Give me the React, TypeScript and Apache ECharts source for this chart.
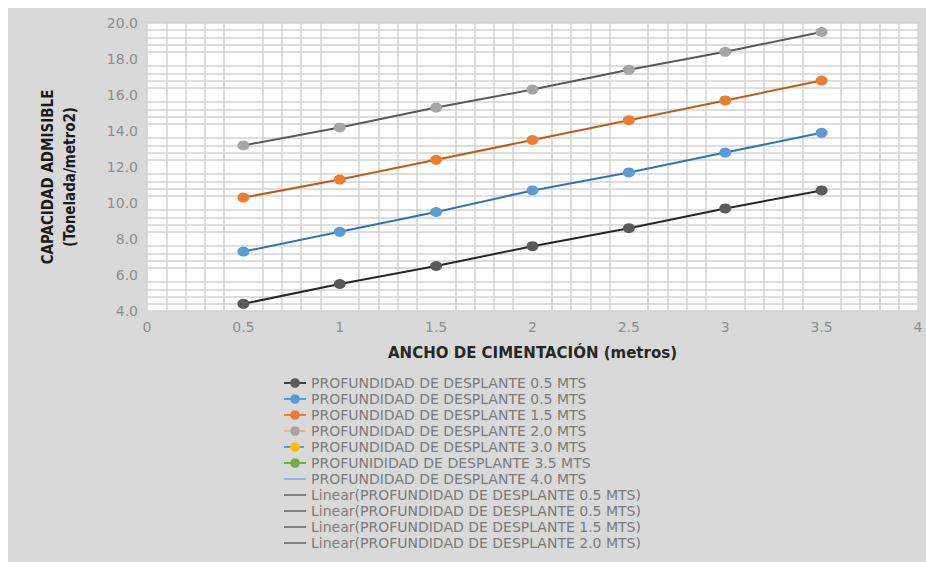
import { useEffect, useRef } from 'react';
import * as echarts from 'echarts';

// Ancho de cimentación (m)
const xValues = [0.5, 1, 1.5, 2, 2.5, 3, 3.5];

// Capacidad admisible (t/m2)
const depth05a = [4.4, 5.5, 6.5, 7.6, 8.6, 9.7, 10.7];
const depth05b = [7.3, 8.4, 9.5, 10.7, 11.7, 12.8, 13.9];
const depth15 = [10.3, 11.3, 12.4, 13.5, 14.6, 15.7, 16.8];
const depth20 = [13.2, 14.2, 15.3, 16.3, 17.4, 18.4, 19.5];
const depth30: number[] = [];
const depth35: number[] = [];
const depth40: number[] = [];
const linear05a: number[] = [];
const linear05b: number[] = [];
const linear15: number[] = [];
const linear20: number[] = [];

const legendLabels = [
  'PROFUNDIDAD DE DESPLANTE 0.5 MTS',
  'PROFUNDIDAD DE DESPLANTE 0.5 MTS',
  'PROFUNDIDAD DE DESPLANTE 1.5 MTS',
  'PROFUNDIDAD DE DESPLANTE 2.0 MTS',
  'PROFUNDIDAD DE DESPLANTE 3.0 MTS',
  'PROFUNIDIDAD DE DESPLANTE 3.5 MTS',
  'PROFUNDIDAD DE DESPLANTE 4.0 MTS',
  'Linear(PROFUNDIDAD DE DESPLANTE 0.5 MTS)',
  'Linear(PROFUNDIDAD DE DESPLANTE 0.5 MTS)',
  'Linear(PROFUNDIDAD DE DESPLANTE 1.5 MTS)',
  'Linear(PROFUNDIDAD DE DESPLANTE 2.0 MTS)',
];

const xTitle = 'ANCHO DE CIMENTACIÓN (metros)';
const yTitle1 = 'CAPACIDAD ADMISIBLE';
const yTitle2 = '(Tonelada/metro2)';

const markerColors = ['#5a5a5a', '#5b9bd5', '#ed7d31', '#a5a5a5', '#ffc000', '#70ad47', '', '', '', '', ''];
const lineColors = ['#262626', '#2e75b6', '#c55a11', '#595959', '#5b9bd5', '#70ad47', '#8eb4e3', '#808080', '#808080', '#808080', '#808080'];
const legendLineColors = ['#404040', '#5b9bd5', '#ed7d31', '#f4b183', '#5b9bd5', '#70ad47', '#8eb4e3', '#808080', '#808080', '#808080', '#808080'];

export default function App() {
  const ref = useRef<HTMLDivElement>(null);

  useEffect(() => {
    const chart = echarts.init(ref.current!, null, { renderer: 'svg' });
    const pts = (ys: number[]) => ys.map((y, i) => [xValues[i], y]);
    const allData = [depth05a, depth05b, depth15, depth20, depth30, depth35, depth40, linear05a, linear05b, linear15, linear20];
    const ids = legendLabels.map((_, i) => 's' + i);

    const series = ids.map((id, i) => ({
      name: id,
      type: 'line',
      data: pts(allData[i]),
      symbol: markerColors[i] ? 'circle' : 'none',
      symbolSize: [12, 10],
      showSymbol: true,
      itemStyle: { color: markerColors[i] || lineColors[i] },
      lineStyle: { color: lineColors[i], width: 2 },
      silent: true,
    }));

    chart.setOption({
      animation: false,
      backgroundColor: '#d9d9d9',
      textStyle: { fontFamily: 'DejaVu Sans' },
      grid: {
        left: 139,
        top: 15,
        right: 8,
        bottom: 251,
        show: true,
        backgroundColor: '#ffffff',
        borderColor: '#d2d2d2',
        borderWidth: 1.5,
      },
      xAxis: {
        type: 'value',
        min: 0,
        max: 4,
        interval: 0.5,
        axisLine: { show: false },
        axisTick: { show: false },
        splitLine: { show: false },
        minorTick: { show: false, splitNumber: 5 },
        minorSplitLine: { show: true, lineStyle: { color: '#d2d2d2', width: 1.5 } },
        axisLabel: { color: '#8c8c8c', fontSize: 14, margin: 9, fontFamily: 'DejaVu Sans' },
        name: xTitle,
        nameLocation: 'middle',
        nameGap: 34,
        nameTextStyle: { color: '#262626', fontSize: 15, fontWeight: 'bold', fontFamily: 'DejaVu Sans' },
      },
      yAxis: {
        type: 'value',
        min: 4,
        max: 20,
        interval: 2,
        axisLine: { show: false },
        axisTick: { show: false },
        splitLine: { show: false },
        minorTick: { show: false, splitNumber: 5 },
        minorSplitLine: { show: true, lineStyle: { color: '#d2d2d2', width: 1.5 } },
        axisLabel: {
          color: '#8c8c8c',
          fontSize: 14,
          margin: 9,
          fontFamily: 'DejaVu Sans',
          formatter: (v: number) => v.toFixed(1),
        },
      },
      legend: {
        orient: 'vertical',
        left: 275,
        top: 367,
        padding: 0,
        itemGap: 0,
        itemWidth: 22,
        itemHeight: 12,
        selectedMode: false,
        formatter: (n: string) => legendLabels[ids.indexOf(n)],
        textStyle: { fontFamily: 'DejaVu Sans', fontSize: 14, color: '#7a7a7a', lineHeight: 16 },
        data: ids.map((id, i) => ({
          name: id,
          itemStyle: { color: markerColors[i] || '#808080', opacity: markerColors[i] ? 1 : 0, borderWidth: 0 },
          lineStyle: { color: legendLineColors[i], width: 2, type: i === 4 ? 'dashed' : 'solid' },
        })),
      },
      graphic: [
        {
          type: 'text',
          x: 40,
          y: 169,
          rotation: Math.PI / 2,
          style: {
            text: yTitle1,
            fill: '#1a1a1a',
            font: "bold 15px 'DejaVu Sans Condensed', sans-serif",
            align: 'center',
            verticalAlign: 'middle',
          },
        },
        {
          type: 'text',
          x: 62,
          y: 169,
          rotation: Math.PI / 2,
          style: {
            text: yTitle2,
            fill: '#1a1a1a',
            font: "bold 15px 'DejaVu Sans Condensed', sans-serif",
            align: 'center',
            verticalAlign: 'middle',
          },
        },
      ],
      series,
    });

    return () => chart.dispose();
  }, []);

  return (
    <div
      ref={ref}
      style={{ position: 'absolute', left: 8, top: 8, width: 918, height: 554 }}
    />
  );
}
